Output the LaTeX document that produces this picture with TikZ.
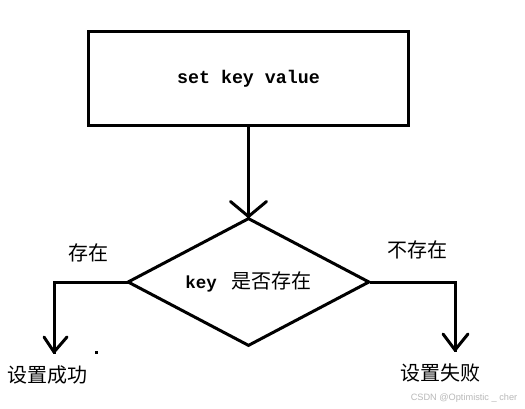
\documentclass[tikz,border=0pt]{standalone}
\usepackage{fontspec}
\setmainfont{Liberation Serif}
\setmonofont{Liberation Mono}
\newfontfamily\cjk{Noto Sans CJK SC}
\newfontfamily\wmfont{Liberation Sans}
\usetikzlibrary{shapes.geometric}
\definecolor{wmgray}{RGB}{185,185,185}
\begin{document}
\begin{tikzpicture}[x=1pt,y=-1pt,
  thick3/.style={line width=3pt},
  boxnode/.style={draw,thick3,rectangle,minimum width=320pt,minimum height=94pt,inner sep=0pt},
  decnode/.style={draw,thick3,diamond,aspect=1.9,minimum width=242pt,minimum height=128pt,inner sep=0pt},
  cjklabel/.style={font=\cjk\fontsize{20}{22}\selectfont,inner sep=0pt},
  conn/.style={thick3,line cap=rect},
  barb/.style={thick3,line cap=round}
]
\useasboundingbox (0,0) rectangle (525,409);
\fill[white] (0,0) rectangle (525,409);

\node[boxnode] (set) at (248.5,78.5) {\ttfamily\bfseries\fontsize{18.3}{20}\selectfont set key value};
\node[decnode] (dec) at (248.5,282) {\ttfamily\bfseries\fontsize{17.5}{20}\selectfont key {\cjk\mdseries\fontsize{20}{22}\selectfont\ 是否存在}};

\coordinate (lcorner) at (54,282);
\coordinate (lend) at (54,352);
\coordinate (rcorner) at (455,282);
\coordinate (rend) at (455,350);

% top connector
\draw[conn] (set.south) -- (dec.north);
\draw[barb] (dec.north) -- ++(-18,-15);
\draw[barb] (dec.north) -- ++(18,-15);

% left connector
\draw[conn] (dec.west) -- (lcorner) -- (lend);
\draw[barb] (lend) -- ++(-10,-15);
\draw[barb] (lend) -- ++(13,-15);

% right connector
\draw[conn] (dec.east) -- (rcorner) -- (rend);
\draw[barb] (rend) -- ++(-12,-16);
\draw[barb] (rend) -- ++(13,-16);

% labels
\node[cjklabel] (yes) at (88,253) {存在};
\node[cjklabel] (no) at (417,250) {不存在};
\node[cjklabel] (ok) at (47,375) {设置成功};
\node[cjklabel] (fail) at (440,373) {设置失败};

% stray dot
\fill (94.5,350.5) rectangle (97.5,353.5);

% watermark
\node[font=\wmfont\fontsize{9.2}{10}\selectfont,text=wmgray,inner sep=0pt] (wm) at (464,398) {CSDN @Optimistic \_ cher};
\end{tikzpicture}
\end{document}
